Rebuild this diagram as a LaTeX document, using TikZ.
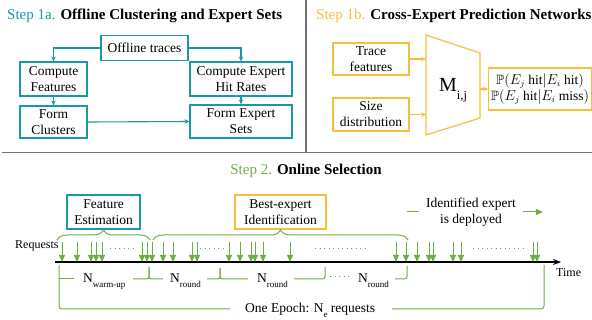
\documentclass[tikz,border=0pt]{standalone}
\usepackage{amsmath,amssymb}
\usepackage{fontspec}
\setmainfont{Liberation Serif}
\usetikzlibrary{arrows.meta,decorations.pathreplacing}

\definecolor{tealstep}{RGB}{24,152,168}
\definecolor{goldstep}{RGB}{245,192,60}
\definecolor{greenstep}{RGB}{112,173,71}

\newcommand{\lowsub}[1]{\raisebox{-5pt}{\fontsize{9}{9}\selectfont #1}}

\tikzset{
  tealbox/.style={draw=tealstep,line width=1.2pt,align=center,inner sep=2pt},
  goldbox/.style={draw=goldstep,line width=1.2pt,align=center,inner sep=2pt},
  tealarrow/.style={draw=tealstep,line width=1.1pt,-{Stealth[length=5pt,width=4.5pt]}},
  goldarrow/.style={draw=goldstep,line width=1.1pt,-{Stealth[length=5pt,width=4.5pt]}},
  reqarrow/.style={draw=greenstep,fill=greenstep,line width=1pt,-{Triangle[length=7pt,width=6pt]}},
  greenline/.style={draw=greenstep,line width=1pt},
  dotline/.style={draw=greenstep,line width=1pt,dash pattern=on 1pt off 3.5pt},
  curly/.style={draw=greenstep,line width=1pt,decorate,decoration={brace,amplitude=10pt}},
  steptitle/.style={anchor=base west,inner sep=0pt,font=\fontsize{15}{18}\selectfont},
  lbl/.style={anchor=base west,inner sep=0pt},
  divider/.style={draw=black!55,line width=1.3pt}
}

\begin{document}
\begin{tikzpicture}[x=1pt,y=-1pt,font=\fontsize{13.5}{16}\selectfont]
\useasboundingbox (0,0) rectangle (592,320);

% Panel borders
\draw[divider] (2,152.5) -- (592,152.5);
\draw[divider] (306,0) -- (306,152.5);

% Step 1a: the offline pipeline
\node[steptitle] (title1a) at (7,20) {\textcolor{tealstep}{Step 1a.} \textbf{Offline Clustering and Expert Sets}};
\node[tealbox,minimum width=87pt,minimum height=25pt] (offline) at (144.5,48) {Offline traces};
\node[tealbox,minimum width=67pt,minimum height=34pt] (feat) at (53.5,79) {Compute\\Features};
\node[tealbox,minimum width=67pt,minimum height=32pt] (clusters) at (53.5,122) {Form\\Clusters};
\node[tealbox,minimum width=102pt,minimum height=34pt] (hitrate) at (241,79) {Compute Expert\\Hit Rates};
\node[tealbox,minimum width=102pt,minimum height=33pt] (sets) at (241,121.5) {Form Expert\\Sets};
\draw[tealarrow] (offline.west) -| (feat.north);
\draw[tealarrow] (offline.east) -| (hitrate.north);
\draw[tealarrow] (feat.south) -- (clusters.north);
\draw[tealarrow] (hitrate.south) -- (sets.north);
\draw[tealarrow] (clusters.east) -- (sets.west);

% Step 1b: the prediction network
\node[steptitle] (title1b) at (316,20) {\textcolor{goldstep}{Step 1b.} \textbf{Cross-Expert Prediction Networks}};
\node[goldbox,minimum width=76pt,minimum height=32pt] (trace) at (371,59) {Trace\\features};
\node[goldbox,minimum width=76pt,minimum height=33pt] (size) at (371,114.5) {Size\\distribution};
\coordinate (m1) at (426,35);
\coordinate (m2) at (480,53);
\coordinate (m3) at (480,118);
\coordinate (m4) at (426,135);
\draw[draw=goldstep,line width=1.2pt] (m1) -- (m2) -- (m3) -- (m4) -- cycle;
\node[lbl,font=\fontsize{20}{20}\selectfont] (mij) at (439,92) {M\raisebox{-8pt}{\fontsize{12.5}{12.5}\selectfont i,j}};
\node[goldbox,minimum width=98pt,minimum height=42pt] (out) at (540,89)
  {$\mathbb{P}(E_j\ \text{hit}|E_i\ \text{hit})$\\$\mathbb{P}(E_j\ \text{hit}|E_i\ \text{miss})$};
\draw[goldarrow] (trace.east) -- (trace.east -| m1);
\draw[goldarrow] (size.east) -- (size.east -| m1);
\draw[goldarrow] (out.west -| m2) -- (out.west);

% Step 2: online selection along the request stream
\node[steptitle,anchor=base] (title2) at (306,175) {\textcolor{greenstep}{Step 2.} \textbf{Online Selection}};
\node[tealbox,minimum width=73pt,minimum height=34pt] (featest) at (103.5,212) {Feature\\Estimation};
\node[goldbox,minimum width=91pt,minimum height=34pt] (bestexp) at (280.5,212) {Best-expert\\Identification};
\node[align=center,inner sep=0pt] (deployed) at (471,212) {Identified expert\\is deployed};
\draw[greenline] ([xshift=-7pt]deployed.west) -- ++(-12,0);
\draw[reqarrow] ([xshift=7pt]deployed.east) -- ++(20,0);

% Braces over the two phases
\draw[curly] (57,240) -- (150,240);
\draw[curly] (153,240) -- (408,240);

% Time axis and arriving requests
\node[lbl,font=\fontsize{12}{14}\selectfont] (req) at (15,249) {Requests};
\coordinate (t0) at (55,262);
\coordinate (t1) at (561,262);
\draw[line width=1.4pt,-{Stealth[length=8pt,width=6pt]}] (t0) -- (t1);
\node[lbl,font=\fontsize{12}{14}\selectfont] (time) at (556,277) {Time};
\foreach \x in {62,77,91,96,102,142,147,152,163,173,192,197,229,240,251,255,263,290,396,406,417,429,433,453,461,533,537}
  \draw[reqarrow] (\x,242) -- (\x,262);
\foreach \a/\b in {110/137,200/227,315/367,473/526}
  \draw[dotline] (\a,249) -- (\b,249);

% Segments under the axis
\draw[greenline,rounded corners=3pt] (59,265) |- (230,309);
\draw[greenline,rounded corners=3pt] (392,309) -| (544,265);
\draw[greenline] (59,279) -- (74,279);
\draw[greenline,rounded corners=2.5pt] (133,279) -| (149,267);
\draw[greenline,rounded corners=2.5pt] (149,267) |- (163,279);
\draw[greenline,rounded corners=2.5pt] (207,279) -| (220,268);
\draw[greenline,rounded corners=2.5pt] (220,268) |- (248,279);
\draw[greenline,rounded corners=2.5pt] (294,279) -| (325,267);
\draw[dotline] (330,277) -- (350,277);
\draw[greenline,rounded corners=2.5pt] (395,279) -| (407,266);
\node[lbl] (nwarm) at (83,283) {N\lowsub{warm-up}};
\node[lbl] (nround1) at (170,283) {N\lowsub{round}};
\node[lbl] (nround2) at (257,283) {N\lowsub{round}};
\node[lbl] (nround3) at (358,283) {N\lowsub{round}};
\node[lbl] (epoch) at (245,313) {One Epoch: N\lowsub{e} requests};

\end{tikzpicture}
\end{document}
